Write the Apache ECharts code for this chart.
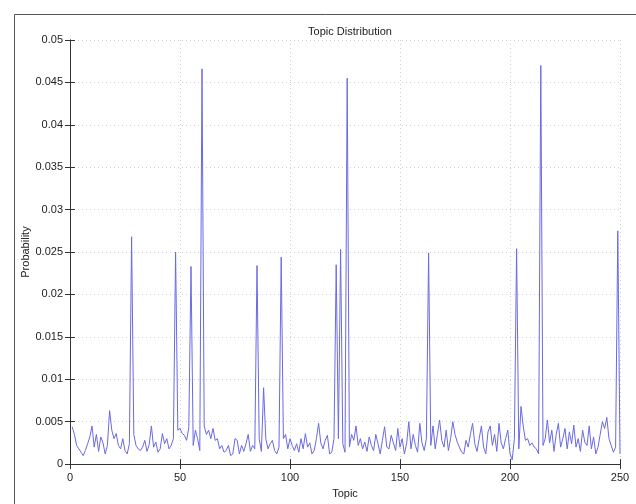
<!DOCTYPE html>
<html>
<head>
<meta charset="utf-8">
<script src="https://cdn.jsdelivr.net/npm/echarts@6/dist/echarts.min.js"></script>
<style>
	html, body { margin: 0; padding: 0; background: #fff; }
	#chart { width: 636px; height: 504px; }
</style>
</head>
<body>
<div id="chart"></div>
<script type="text/javascript">
	// topic probabilities, topic 1 .. 250
	var probs = [
		0.0044, 0.0035, 0.0022, 0.0018, 0.0014, 0.0010, 0.0016, 0.0024, 0.0032, 0.0045,
		0.0020, 0.0035, 0.0015, 0.0032, 0.0025, 0.0012, 0.0022, 0.0063, 0.0040, 0.0030,
		0.0036, 0.0022, 0.0018, 0.0030, 0.0016, 0.0012, 0.0024, 0.0268, 0.0035, 0.0022,
		0.0018, 0.0016, 0.0020, 0.0028, 0.0015, 0.0023, 0.0045, 0.0020, 0.0026, 0.0014,
		0.0018, 0.0036, 0.0024, 0.0030, 0.0018, 0.0022, 0.0030, 0.0250, 0.0040, 0.0042,
		0.0036, 0.0034, 0.0028, 0.0043, 0.0233, 0.0022, 0.0040, 0.0030, 0.0016, 0.0466,
		0.0045, 0.0035, 0.0040, 0.0030, 0.0042, 0.0028, 0.0030, 0.0018, 0.0022, 0.0014,
		0.0016, 0.0022, 0.0010, 0.0012, 0.0030, 0.0028, 0.0012, 0.0022, 0.0015, 0.0024,
		0.0035, 0.0015, 0.0022, 0.0018, 0.0234, 0.0030, 0.0015, 0.0090, 0.0030, 0.0018,
		0.0024, 0.0028, 0.0016, 0.0012, 0.0020, 0.0244, 0.0030, 0.0035, 0.0018, 0.0030,
		0.0022, 0.0016, 0.0024, 0.0014, 0.0030, 0.0018, 0.0036, 0.0020, 0.0025, 0.0012,
		0.0016, 0.0030, 0.0048, 0.0025, 0.0018, 0.0028, 0.0034, 0.0012, 0.0014, 0.0030,
		0.0235, 0.0030, 0.0253, 0.0024, 0.0014, 0.0455, 0.0020, 0.0035, 0.0028, 0.0045,
		0.0022, 0.0030, 0.0018, 0.0026, 0.0015, 0.0032, 0.0022, 0.0016, 0.0035, 0.0024,
		0.0012, 0.0028, 0.0044, 0.0020, 0.0018, 0.0034, 0.0025, 0.0016, 0.0042, 0.0020,
		0.0030, 0.0012, 0.0024, 0.0050, 0.0018, 0.0035, 0.0022, 0.0014, 0.0048, 0.0025,
		0.0016, 0.0030, 0.0249, 0.0022, 0.0045, 0.0018, 0.0035, 0.0052, 0.0028, 0.0020,
		0.0040, 0.0016, 0.0030, 0.0050, 0.0035, 0.0026, 0.0020, 0.0014, 0.0012, 0.0028,
		0.0020, 0.0035, 0.0048, 0.0024, 0.0015, 0.0030, 0.0045, 0.0020, 0.0012, 0.0038,
		0.0045, 0.0022, 0.0035, 0.0015, 0.0048, 0.0025, 0.0018, 0.0030, 0.0040, 0.0012,
		0.0005, 0.0030, 0.0254, 0.0018, 0.0068, 0.0045, 0.0028, 0.0030, 0.0022, 0.0025,
		0.0020, 0.0018, 0.0012, 0.0470, 0.0022, 0.0030, 0.0052, 0.0025, 0.0040, 0.0015,
		0.0035, 0.0048, 0.0020, 0.0030, 0.0042, 0.0018, 0.0038, 0.0024, 0.0046, 0.0020,
		0.0030, 0.0015, 0.0040, 0.0026, 0.0022, 0.0045, 0.0018, 0.0032, 0.0012, 0.0020,
		0.0035, 0.0050, 0.0042, 0.0055, 0.0030, 0.0022, 0.0014, 0.0020, 0.0275, 0.0012
	];
	var xTicks = [0, 50, 100, 150, 200, 250];
	var yTicks = [0, 0.005, 0.01, 0.015, 0.02, 0.025, 0.03, 0.035, 0.04, 0.045, 0.05];

	(function() {
		var chart = echarts.init(document.getElementById('chart'), null, {renderer: 'canvas'});

		var points = [];
		for (var i = 0; i < probs.length; i++) {
			points.push([i + 1, probs[i]]);
		}

		var font = 'Liberation Sans';
		var gridLine = {show: true, lineStyle: {color: '#d0d0d0', type: [1, 3], width: 1}};
		var axisLine = {show: true, lineStyle: {color: '#333', width: 1}};
		var tick = {show: true, inside: true, length: 5, lineStyle: {color: '#333'}};

		var option = {
			backgroundColor: '#fff',
			animation: false,
			textStyle: {fontFamily: font},
			title: {
				text: 'Topic Distribution',
				left: 345,
				top: 21,
				textAlign: 'center',
				textStyle: {fontSize: 11, fontWeight: 'normal', color: '#222', fontFamily: font}
			},
			graphic: [{
				type: 'rect',
				left: 12, top: 12,
				shape: {width: 640, height: 500},
				style: {fill: 'none', stroke: '#555', lineWidth: 1},
				silent: true
			}],
			grid: {left: 70, right: 16, top: 40, bottom: 32, containLabel: false},
			xAxis: [{
				type: 'value',
				min: 0, max: 250, interval: 50,
				name: 'Topic',
				nameLocation: 'middle',
				nameGap: 22,
				nameTextStyle: {fontSize: 11, color: '#222'},
				axisLine: axisLine,
				axisTick: tick,
				splitLine: gridLine,
				axisLabel: {
					fontSize: 11, color: '#222', margin: 8,
					formatter: function(v) { return xTicks.indexOf(v) >= 0 ? String(v) : ''; }
				}
			}, {
				type: 'value',
				position: 'top',
				min: 0, max: 250, interval: 50,
				axisLine: axisLine,
				axisTick: tick,
				splitLine: {show: false},
				axisLabel: {show: false}
			}],
			yAxis: [{
				type: 'value',
				min: 0, max: 0.05, interval: 0.005,
				name: 'Probability',
				nameLocation: 'middle',
				nameGap: 39,
				nameMoveOverlap: false,
				nameRotate: 90,
				nameTextStyle: {fontSize: 11, color: '#222'},
				axisLine: axisLine,
				axisTick: tick,
				splitLine: gridLine,
				axisLabel: {
					fontSize: 11, color: '#222', margin: 7,
					formatter: function(v) {
						for (var k = 0; k < yTicks.length; k++) {
							if (Math.abs(yTicks[k] - v) < 1e-9) return String(yTicks[k]);
						}
						return '';
					}
				}
			}, {
				type: 'value',
				position: 'right',
				min: 0, max: 0.05, interval: 0.005,
				axisLine: axisLine,
				axisTick: tick,
				splitLine: {show: false},
				axisLabel: {show: false}
			}],
			series: [{
				name: 'Probability',
				type: 'line',
				data: points,
				xAxisIndex: 0,
				yAxisIndex: 0,
				showSymbol: false,
				symbol: 'none',
				lineStyle: {color: '#6a6ae4', width: 1},
				itemStyle: {color: '#6a6ae4'}
			}]
		};

		chart.setOption(option);
	})();
</script>
</body>
</html>
